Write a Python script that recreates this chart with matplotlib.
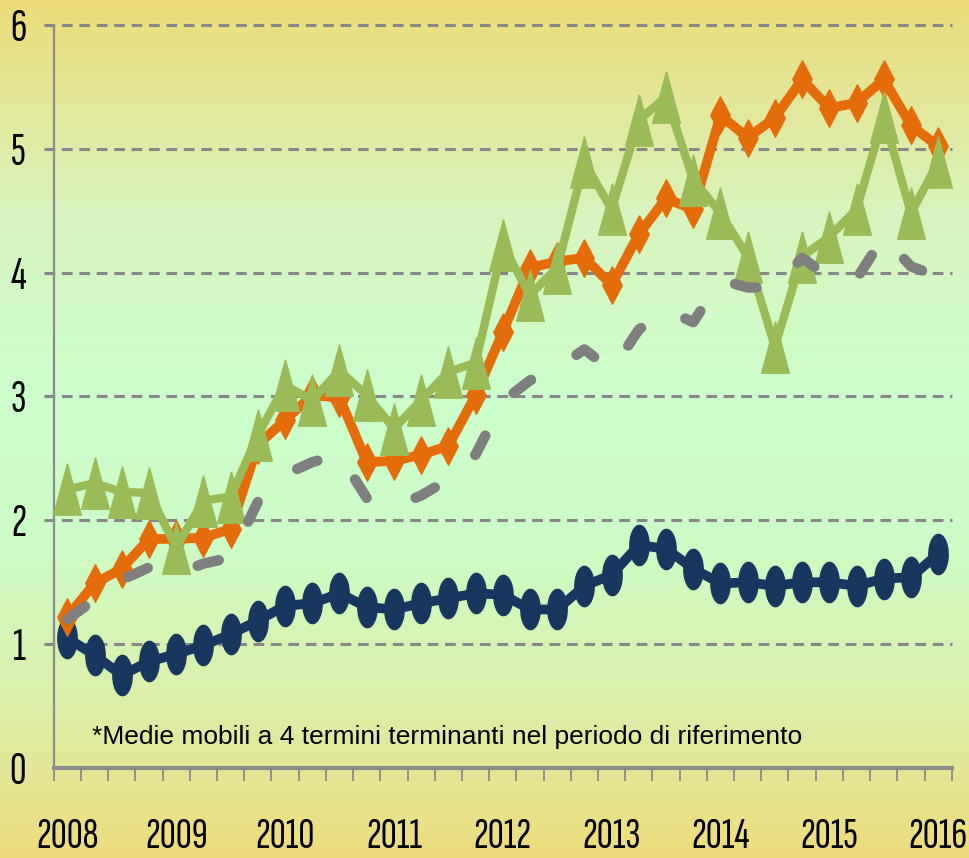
import matplotlib
matplotlib.use("Agg")
import matplotlib.pyplot as plt
import numpy as np
from matplotlib.colors import LinearSegmentedColormap

# quarterly data, 2008 Q1 .. 2016 Q1 (moving averages)
years = ['2008', '2009', '2010', '2011', '2012', '2013', '2014', '2015', '2016']

blue = [1.05, 0.91, 0.75, 0.86, 0.92, 0.99, 1.08, 1.19, 1.31, 1.33, 1.41, 1.30, 1.28, 1.33,
        1.37, 1.41, 1.40, 1.28, 1.28, 1.47, 1.56, 1.80, 1.77, 1.61, 1.49, 1.50, 1.47, 1.50,
        1.50, 1.47, 1.53, 1.54, 1.73]
orange = [1.22, 1.49, 1.61, 1.85, 1.85, 1.86, 1.93, 2.61, 2.81, 3.01, 2.99, 2.47, 2.48, 2.53,
          2.60, 3.01, 3.52, 4.04, 4.09, 4.12, 3.90, 4.31, 4.60, 4.51, 5.27, 5.09, 5.25, 5.56,
          5.33, 5.37, 5.56, 5.19, 5.02]
green = [2.25, 2.30, 2.23, 2.22, 1.78, 2.16, 2.19, 2.69, 3.09, 2.97, 3.21, 3.01, 2.74, 2.97,
         3.20, 3.27, 4.22, 3.82, 4.04, 4.89, 4.51, 5.23, 5.42, 4.75, 4.48, 4.13, 3.40, 4.13,
         4.29, 4.51, 5.26, 4.48, 4.89]
grey = [1.20, 1.36, 1.52, 1.62, 1.57, 1.65, 1.70, 2.15, 2.37, 2.47, 2.53, 2.18, 2.11, 2.20,
        2.33, 2.53, 2.96, 3.13, 3.23, 3.38, 3.21, 3.54, 3.70, 3.60, 3.94, 3.88, 3.88, 4.12,
        3.96, 3.95, 4.29, 4.05, 3.97]

note = '*Medie mobili a 4 termini terminanti nel periodo di riferimento'

narrow = ['Sofia Sans Extra Condensed', 'DejaVu Sans']

fig = plt.figure(figsize=(9.69, 8.58), dpi=100)

# background gradient yellow - green - yellow
bg = fig.add_axes([0, 0, 1, 1])
cmap = LinearSegmentedColormap.from_list('bg', [
    (0.0, '#EDDC7A'), (0.25, '#D8F4BE'), (0.45, '#CCFFCC'), (0.62, '#CCFDC8'),
    (0.82, '#DCEFAA'), (1.0, '#EEDC7C')])
bg.imshow(np.linspace(0, 1, 256).reshape(-1, 1), aspect='auto', cmap=cmap,
          extent=[0, 1, 0, 1])
bg.set_axis_off()

ax = fig.add_axes([0.0555, 0.1049, 0.9267, 0.866])
ax.patch.set_visible(False)

x = np.arange(len(blue))

t = np.linspace(0, 2 * np.pi, 60)
ellipse = list(zip(0.48 * np.cos(t), np.sin(t)))
diamond = [(0, 1), (0.52, 0), (0, -1), (-0.52, 0), (0, 1)]
triangle = [(0, 1), (0.54, -1), (-0.54, -1), (0, 1)]

ax.plot(x, blue, color='#17375E', lw=7, marker=ellipse, markersize=29, zorder=3)
ax.plot(x, orange, color='#E46C0A', lw=7, marker=diamond, markersize=27, zorder=4)
ax.plot(x, green, color='#9BBB59', lw=6, marker=triangle, markersize=37, zorder=5)
ax.plot(x, grey, color='#7F7F7F', lw=7.5, linestyle=(0, (2.1, 5.0)),
        dash_capstyle='round', zorder=6)

# dashed gridlines
for v in range(1, 7):
    ax.plot([-0.85, 32.5], [v, v], color='#878787', lw=2.2, linestyle=(0, (3.5, 2.2)),
            clip_on=False, zorder=1)

ax.set_xlim(-0.5, 32.5)
ax.set_ylim(0, 6)

for s in ['top', 'right']:
    ax.spines[s].set_visible(False)
ax.spines['left'].set_color('#8C8C8C')
ax.spines['left'].set_linewidth(1.6)
ax.spines['bottom'].set_color('#8C8C8C')
ax.spines['bottom'].set_linewidth(3)
ax.spines['bottom'].set_zorder(2)

ax.set_xticks(np.arange(0, 33, 4), years)
ax.set_xticks(np.arange(-0.5, 33, 1), minor=True)
ax.tick_params(axis='x', which='major', length=0, pad=35, labelsize=32)
ax.tick_params(axis='x', which='minor', length=9, width=1.3, color='#8C8C8C')
ax.set_yticks(range(0, 7))
ax.tick_params(axis='y', length=0, pad=20, labelsize=33)
for lab in ax.get_xticklabels() + ax.get_yticklabels():
    lab.set_family(narrow)

ax.text(0.9, 0.25, note, fontsize=19, family=['Liberation Sans', 'DejaVu Sans'],
        va='center', ha='left', zorder=7)

fig.savefig('out.png', dpi=100)
